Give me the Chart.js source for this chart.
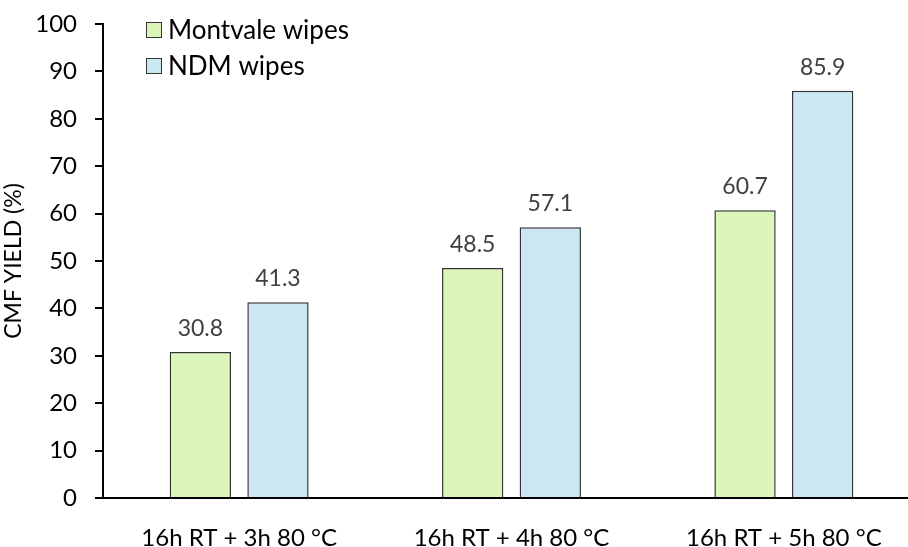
<!DOCTYPE html>
<html>
<head>
<meta charset="utf-8">
<script src="https://cdn.jsdelivr.net/npm/chart.js@4/dist/chart.umd.min.js"></script>
<style>
  html, body { margin: 0; padding: 0; background: #fff; overflow: hidden; }
  #wrap { width: 920px; height: 547px; }
</style>
</head>
<body>
<div id="wrap"><canvas id="yieldChart"></canvas></div>
<script>
const categories = ['16h RT + 3h 80 °C', '16h RT + 4h 80 °C', '16h RT + 5h 80 °C'];
const montvaleWipes = [30.8, 48.5, 60.7];
const ndmWipes = [41.3, 57.1, 85.9];
const yTicks = [0, 10, 20, 30, 40, 50, 60, 70, 80, 90, 100];

const fontFamily = 'Lato, "Open Sans", sans-serif';

// draws the number above each bar
const valueLabels = {
    id: 'valueLabels',
    afterDatasetsDraw(chart) {
        const ctx = chart.ctx;
        ctx.save();
        ctx.font = '23px ' + fontFamily;
        ctx.fillStyle = '#404040';
        ctx.textAlign = 'center';
        ctx.textBaseline = 'bottom';
        chart.data.datasets.forEach((ds, i) => {
            chart.getDatasetMeta(i).data.forEach((bar, j) => {
                ctx.fillText(ds.data[j].toFixed(1), bar.x, bar.y - 12);
            });
        });
        ctx.restore();
    }
};

// legend sitting inside the plot, top left
const insideLegend = {
    id: 'insideLegend',
    afterDraw(chart) {
        const ctx = chart.ctx;
        ctx.save();
        ctx.font = '26px ' + fontFamily;
        ctx.textBaseline = 'middle';
        chart.data.datasets.forEach((ds, i) => {
            const x = 146, y = 30 + i * 36;
            ctx.fillStyle = ds.backgroundColor;
            ctx.fillRect(x, y - 8, 16, 16);
            ctx.strokeStyle = '#333';
            ctx.lineWidth = 1;
            ctx.strokeRect(x + 0.5, y - 7.5, 15, 15);
            ctx.fillStyle = '#000';
            ctx.fillText(ds.label, x + 22, y + 1);
        });
        ctx.restore();
    }
};

new Chart(document.getElementById('yieldChart'), {
    type: 'bar',
    data: {
        labels: categories,
        datasets: [
            {
                label: 'Montvale wipes',
                data: montvaleWipes,
                backgroundColor: '#DCF5B9',
                borderColor: '#333',
                borderWidth: 1.5
            },
            {
                label: 'NDM wipes',
                data: ndmWipes,
                backgroundColor: '#CAE7F2',
                borderColor: '#333',
                borderWidth: 1.5
            }
        ]
    },
    options: {
        responsive: true,
        maintainAspectRatio: false,
        animation: false,
        categoryPercentage: 0.57,
        barPercentage: 0.79,
        layout: { padding: { top: 24, right: 0, left: 0, bottom: 0 } },
        plugins: {
            legend: { display: false },
            tooltip: { enabled: false }
        },
        scales: {
            x: {
                grid: { display: false },
                border: { display: true, color: '#000', width: 2 },
                ticks: { color: '#000', font: { size: 24, family: fontFamily }, padding: 18 },
                afterFit(scale) { scale.height = 49; }
            },
            y: {
                min: 0,
                max: 100,
                afterBuildTicks(scale) { scale.ticks = yTicks.map(v => ({ value: v })); },
                grid: { drawOnChartArea: false, drawTicks: true, tickLength: 8, color: '#000', lineWidth: 2 },
                border: { display: true, color: '#000', width: 2 },
                ticks: { color: '#000', font: { size: 24, family: fontFamily }, padding: 18 },
                title: { display: true, text: 'CMF YIELD (%)', color: '#000', font: { size: 23, family: fontFamily }, padding: 0 },
                afterFit(scale) {
                    scale.width = 103;
                    scale.paddingTop = 0;
                    scale.paddingBottom = 0;
                }
            }
        }
    },
    plugins: [valueLabels, insideLegend]
});
</script>
</body>
</html>
